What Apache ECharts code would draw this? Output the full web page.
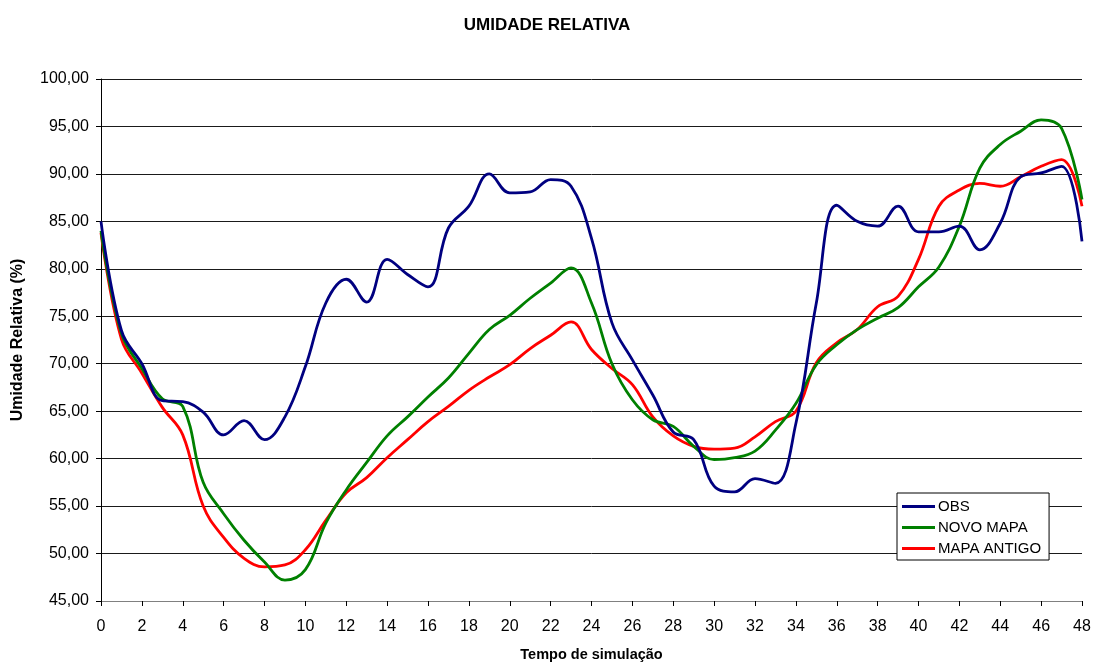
<!DOCTYPE html>
<html>
<head>
<meta charset="utf-8">
<script src="https://cdn.jsdelivr.net/npm/echarts@6/dist/echarts.min.js"></script>
<style>
html,body{margin:0;padding:0;background:#fff;}
#chart{width:1094px;height:662px;}
</style>
</head>
<body>
<div id="chart"></div>
<script>
const hours = [0,1,2,3,4,5,6,7,8,9,10,11,12,13,14,15,16,17,18,19,20,21,22,23,24,25,26,27,28,29,30,31,32,33,34,35,36,37,38,39,40,41,42,43,44,45,46,47,48];
const obs = [85.0,73.5,70.0,66.1,66.0,64.9,62.5,64.0,62.0,64.4,69.7,76.4,78.9,76.5,81.0,79.4,78.1,84.3,86.6,90.0,88.0,88.1,89.4,88.7,83.2,74.3,70.4,66.7,62.8,62.0,57.1,56.5,57.9,57.4,63.7,76.4,86.7,85.0,84.5,86.6,83.9,83.9,84.5,82.0,84.8,89.7,90.1,90.8,82.9];
const novoMapa = [84.0,73.2,69.5,66.3,65.5,57.5,54.2,51.4,49.1,47.2,48.3,53.2,56.7,59.6,62.4,64.4,66.5,68.5,71.1,73.6,75.1,76.9,78.5,80.1,76.4,70.0,66.2,64.1,63.4,61.3,59.9,60.1,60.8,63.0,65.8,69.9,72.0,73.6,74.8,75.9,78.1,80.2,84.5,90.6,93.1,94.5,95.7,94.8,87.3];
const mapaAntigo = [83.8,72.6,69.0,65.4,62.5,55.0,51.7,49.5,48.6,48.8,50.4,53.5,56.4,58.0,60.1,62.0,63.9,65.5,67.2,68.6,69.9,71.6,73.0,74.4,71.5,69.5,67.8,64.4,62.4,61.3,61.0,61.1,62.3,63.9,65.0,70.1,72.2,73.6,76.0,77.1,81.0,86.6,88.3,89.0,88.7,89.7,90.8,91.5,86.6];
const seriesNames = ['OBS','NOVO MAPA','MAPA ANTIGO'];
const seriesColors = ['#000080','#008000','#ff0000'];
const seriesData = [obs, novoMapa, mapaAntigo];

const chart = echarts.init(document.getElementById('chart'));
const font = 'Liberation Sans, Arial, sans-serif';
chart.setOption({
  animation: false,
  backgroundColor: '#fff',
  title: {
    text: 'UMIDADE RELATIVA',
    left: 'center',
    top: 12,
    textStyle: {fontFamily: font, fontSize: 17, fontWeight: 'bold', color: '#000'}
  },
  legend: {
    orient: 'vertical',
    left: 897,
    top: 493,
    backgroundColor: '#fff',
    borderColor: '#000',
    borderWidth: 1,
    borderRadius: 0,
    padding: [6, 8, 4, 5],
    itemGap: 6,
    itemWidth: 33,
    itemHeight: 3,
    icon: 'rect',
    textStyle: {fontFamily: font, fontSize: 15, color: '#000', padding: [0,0,0,-2]},
    data: seriesNames
  },
  grid: {left: 101, right: 12, top: 79, bottom: 61, containLabel: false, outerBoundsMode: 'none'},
  xAxis: {
    type: 'value',
    min: 0, max: 48, interval: 2,
    name: 'Tempo de simulação',
    nameLocation: 'middle',
    nameGap: 46,
    nameTextStyle: {fontFamily: font, fontSize: 14.5, fontWeight: 'bold', color: '#000'},
    axisLine: {show: true, lineStyle: {color: '#808080', width: 1}},
    axisTick: {show: true, length: 5, lineStyle: {color: '#000'}},
    axisLabel: {fontFamily: font, fontSize: 16, color: '#000', margin: 18},
    splitLine: {show: false}
  },
  yAxis: {
    type: 'value',
    min: 45, max: 100, interval: 5,
    name: 'Umidade Relativa (%)',
    nameLocation: 'middle',
    nameGap: 75,
    nameRotate: 90,
    nameTextStyle: {fontFamily: font, fontSize: 16, fontWeight: 'bold', color: '#000'},
    axisLine: {show: true, lineStyle: {color: '#000', width: 1}},
    axisTick: {show: true, length: 5, lineStyle: {color: '#000'}},
    axisLabel: {fontFamily: font, fontSize: 16, color: '#000', margin: 12,
      formatter: v => v.toFixed(2).replace('.', ',')},
    splitLine: {show: true, lineStyle: {color: '#1a1a1a', width: 1}}
  },
  series: seriesNames.map((n, i) => ({
    name: n,
    type: 'line',
    smooth: 0.4,
    symbol: 'none',
    data: hours.map((h, k) => [h, seriesData[i][k]]),
    lineStyle: {color: seriesColors[i], width: 2.8},
    itemStyle: {color: seriesColors[i]},
    z: 3 - i
  }))
});
</script>
</body>
</html>
